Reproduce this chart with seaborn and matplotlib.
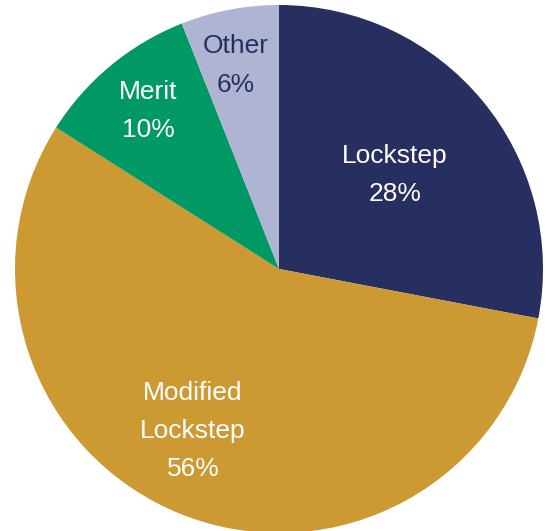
import matplotlib
matplotlib.use("Agg")
import matplotlib.pyplot as plt
import seaborn as sns

# Share of firms by compensation system
categories = ["Lockstep", "Modified\nLockstep", "Merit", "Other"]
shares = [28, 56, 10, 6]

colors = ["#262F5F", "#CC9933", "#009966", "#AEB4D2"]
text_colors = ["white", "white", "white", "#262F5F"]
# label centres in pie units (radius = 1)
label_xy = [(0.439, 0.356), (-0.326, -0.614), (-0.496, 0.598), (-0.163, 0.771)]

sns.set_theme(style="white")
plt.rcParams["font.family"] = ["Liberation Sans", "DejaVu Sans"]

fig = plt.figure(figsize=(5.47, 5.31), dpi=100)
ax = fig.add_axes([15 / 547, -2 / 531, 528 / 547, 528 / 531])

wedges, _ = ax.pie(shares, colors=colors, startangle=90, counterclock=False,
                   wedgeprops=dict(linewidth=0))

for cat, val, tc, (x, y) in zip(categories, shares, text_colors, label_xy):
    ax.text(x, y, f"{cat}\n{val}%", ha="center", va="center", color=tc,
            fontsize=19, linespacing=1.75)

ax.set_xlim(-1, 1)
ax.set_ylim(-1, 1)
ax.set_aspect("equal")
ax.axis("off")

fig.savefig("out.png", dpi=100)
